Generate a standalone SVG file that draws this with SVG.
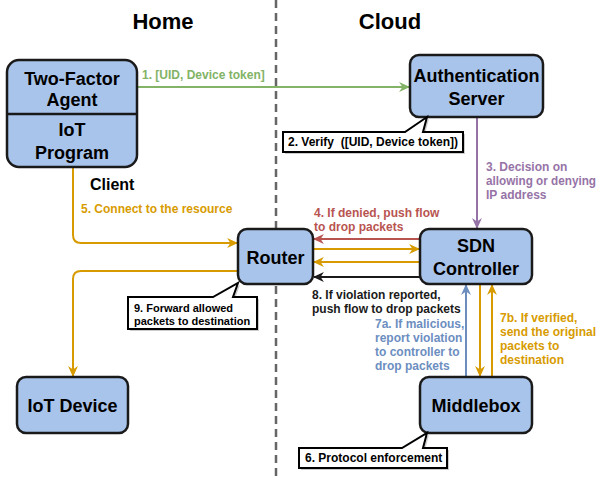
<svg xmlns="http://www.w3.org/2000/svg" width="598" height="477" viewBox="0 0 598 477">
<style>
.node{fill:#a9c4eb;stroke:#1a1a1a;stroke-width:2.5}
.nt{font-family:"Liberation Sans",Arial,sans-serif;font-weight:bold;font-size:18px;fill:#000;text-anchor:middle}
.hd{font-family:"Liberation Sans",Arial,sans-serif;font-weight:bold;font-size:22px;fill:#000;text-anchor:middle}
.lb{font-family:"Liberation Sans",Arial,sans-serif;font-weight:bold;font-size:12px}
.sm{font-size:11px}
.call{fill:#fff;stroke:#000;stroke-width:2;stroke-linejoin:miter}
.shadow{fill:#000;opacity:0.2}
.ln{fill:none;stroke-width:2}
</style>
<defs>
<marker id="aG" viewBox="0 0 10 9" refX="9" refY="4.5" markerWidth="11" markerHeight="10" markerUnits="userSpaceOnUse" orient="auto"><path d="M0,0 L10,4.5 L0,9 L3,4.5 Z" fill="#82b366"/></marker>
<marker id="aP" viewBox="0 0 10 9" refX="9" refY="4.5" markerWidth="11" markerHeight="10" markerUnits="userSpaceOnUse" orient="auto"><path d="M0,0 L10,4.5 L0,9 L3,4.5 Z" fill="#9673a6"/></marker>
<marker id="aR" viewBox="0 0 10 9" refX="9" refY="4.5" markerWidth="11" markerHeight="10" markerUnits="userSpaceOnUse" orient="auto"><path d="M0,0 L10,4.5 L0,9 L3,4.5 Z" fill="#b85450"/></marker>
<marker id="aO" viewBox="0 0 10 9" refX="9" refY="4.5" markerWidth="11" markerHeight="10" markerUnits="userSpaceOnUse" orient="auto"><path d="M0,0 L10,4.5 L0,9 L3,4.5 Z" fill="#d79b00"/></marker>
<marker id="aK" viewBox="0 0 10 9" refX="9" refY="4.5" markerWidth="11" markerHeight="10" markerUnits="userSpaceOnUse" orient="auto"><path d="M0,0 L10,4.5 L0,9 L3,4.5 Z" fill="#1a1a1a"/></marker>
<marker id="aB" viewBox="0 0 10 9" refX="9" refY="4.5" markerWidth="11" markerHeight="10" markerUnits="userSpaceOnUse" orient="auto"><path d="M0,0 L10,4.5 L0,9 L3,4.5 Z" fill="#6c8ebf"/></marker>
</defs>

<rect width="598" height="477" fill="#fff"/>
<line x1="276" y1="0" x2="276" y2="477" stroke="#666" stroke-width="2.5" stroke-dasharray="8 5"/>
<text class="hd" x="163" y="29">Home</text>
<text class="hd" x="390" y="29">Cloud</text>

<g id="connectors">
<path class="ln" stroke="#82b366" d="M137,87 L409,87" marker-end="url(#aG)"/>
<path class="ln" stroke="#9673a6" d="M477,118 L477,228" marker-end="url(#aP)"/>
<path class="ln" stroke="#b85450" d="M420,239 L314,239" marker-end="url(#aR)"/>
<path class="ln" stroke="#d79b00" d="M313,249 L419,249" marker-end="url(#aO)"/>
<path class="ln" stroke="#d79b00" d="M420,262 L314,262" marker-end="url(#aO)"/>
<path class="ln" stroke="#1a1a1a" d="M420,277 L314,277" marker-end="url(#aK)"/>
<path class="ln" stroke="#d79b00" d="M73,168 L73,235 Q73,243 81,243 L237,243" marker-end="url(#aO)"/>
<path class="ln" stroke="#d79b00" d="M238,271 L81,271 Q73,271 73,279 L73,376" marker-end="url(#aO)"/>
<path class="ln" stroke="#6c8ebf" d="M466,377 L466,285" marker-end="url(#aB)"/>
<path class="ln" stroke="#d79b00" d="M480,284 L480,376" marker-end="url(#aO)"/>
<path class="ln" stroke="#d79b00" d="M492,377 L492,285" marker-end="url(#aO)"/>
</g>

<g id="labels">
<text class="lb" fill="#82b366" x="142" y="79">1. [UID, Device token]</text>
<text class="lb" fill="#9673a6" x="486" y="171">3. Decision on</text>
<text class="lb" fill="#9673a6" x="486" y="185" textLength="110" lengthAdjust="spacingAndGlyphs">allowing or denying</text>
<text class="lb" fill="#9673a6" x="486" y="199">IP address</text>
<text class="lb" fill="#b85450" x="314" y="217">4. If denied, push flow</text>
<text class="lb" fill="#b85450" x="314" y="231">to drop packets</text>
<text class="lb" fill="#d79b00" x="81" y="213">5. Connect to the resource</text>
<text class="lb" fill="#1a1a1a" x="312" y="299">8. If violation reported,</text>
<text class="lb" fill="#1a1a1a" x="312" y="313">push flow to drop packets</text>
<text class="lb" fill="#6c8ebf" x="375" y="328">7a. If malicious,</text>
<text class="lb" fill="#6c8ebf" x="375" y="342">report violation</text>
<text class="lb" fill="#6c8ebf" x="375" y="356">to controller to</text>
<text class="lb" fill="#6c8ebf" x="375" y="370">drop packets</text>
<text class="lb" fill="#d79b00" x="500" y="322">7b. If verified,</text>
<text class="lb" fill="#d79b00" x="500" y="336">send the original</text>
<text class="lb" fill="#d79b00" x="500" y="350">packets to</text>
<text class="lb" fill="#d79b00" x="500" y="364">destination</text>
<text x="90" y="190" font-family="Liberation Sans, Arial, sans-serif" font-weight="bold" font-size="16" fill="#000">Client</text>
</g>

<g id="two-factor-agent">
<rect class="node" x="7" y="60" width="130" height="107" rx="12"/>
<line x1="7" y1="114" x2="137" y2="114" stroke="#1a1a1a" stroke-width="2.5"/>
<text class="nt" x="72" y="84.5">Two-Factor</text>
<text class="nt" x="72" y="105.5">Agent</text>
<text class="nt" x="72" y="135.5">IoT</text>
<text class="nt" x="72" y="158.5">Program</text>
</g>

<g id="authentication-server">
<rect class="node" x="410" y="55" width="133" height="62" rx="9"/>
<text class="nt" x="476.5" y="81.5">Authentication</text>
<text class="nt" x="476.5" y="104.5">Server</text>
</g>

<g id="sdn-controller">
<rect class="node" x="420" y="229" width="112" height="55" rx="9"/>
<text class="nt" x="476" y="251.5">SDN</text>
<text class="nt" x="476" y="275">Controller</text>
</g>

<g id="router">
<rect class="node" x="238" y="229" width="75" height="55" rx="9"/>
<text class="nt" x="275.5" y="263.5">Router</text>
</g>

<g id="iot-device">
<rect class="node" x="17" y="377" width="111" height="56" rx="9"/>
<text class="nt" x="72.5" y="411.5">IoT Device</text>
</g>

<g id="middlebox">
<rect class="node" x="420" y="377" width="112" height="56" rx="9"/>
<text class="nt" x="476" y="411.5">Middlebox</text>
</g>

<g id="callout-verify">
<path class="shadow" d="M285,134 L407,134 L429,119 L425,134 L465,134 L465,154 L285,154 Z"/>
<path class="call" d="M283,132 L405,132 L427,117 L423,132 L463,132 L463,152 L283,152 Z"/>
<text class="lb" fill="#000" x="288" y="146" style="white-space:pre">2. Verify  ([UID, Device token])</text>
</g>

<g id="callout-forward">
<path class="shadow" d="M130,299 L215,299 L240,285 L235,299 L259,299 L259,331 L130,331 Z"/>
<path class="call" d="M128,297 L213,297 L238,283 L233,297 L257,297 L257,329 L128,329 Z"/>
<text class="lb sm" fill="#000" x="134" y="312">9. Forward allowed</text>
<text class="lb sm" fill="#000" x="134" y="325">packets to destination</text>
</g>

<g id="callout-protocol">
<path class="shadow" d="M301,450 L404,450 L429,435 L425,450 L449,450 L449,470 L301,470 Z"/>
<path class="call" d="M299,448 L402,448 L427,433 L423,448 L447,448 L447,468 L299,468 Z"/>
<text class="lb" fill="#000" x="305" y="462">6. Protocol enforcement</text>
</g>
</svg>
